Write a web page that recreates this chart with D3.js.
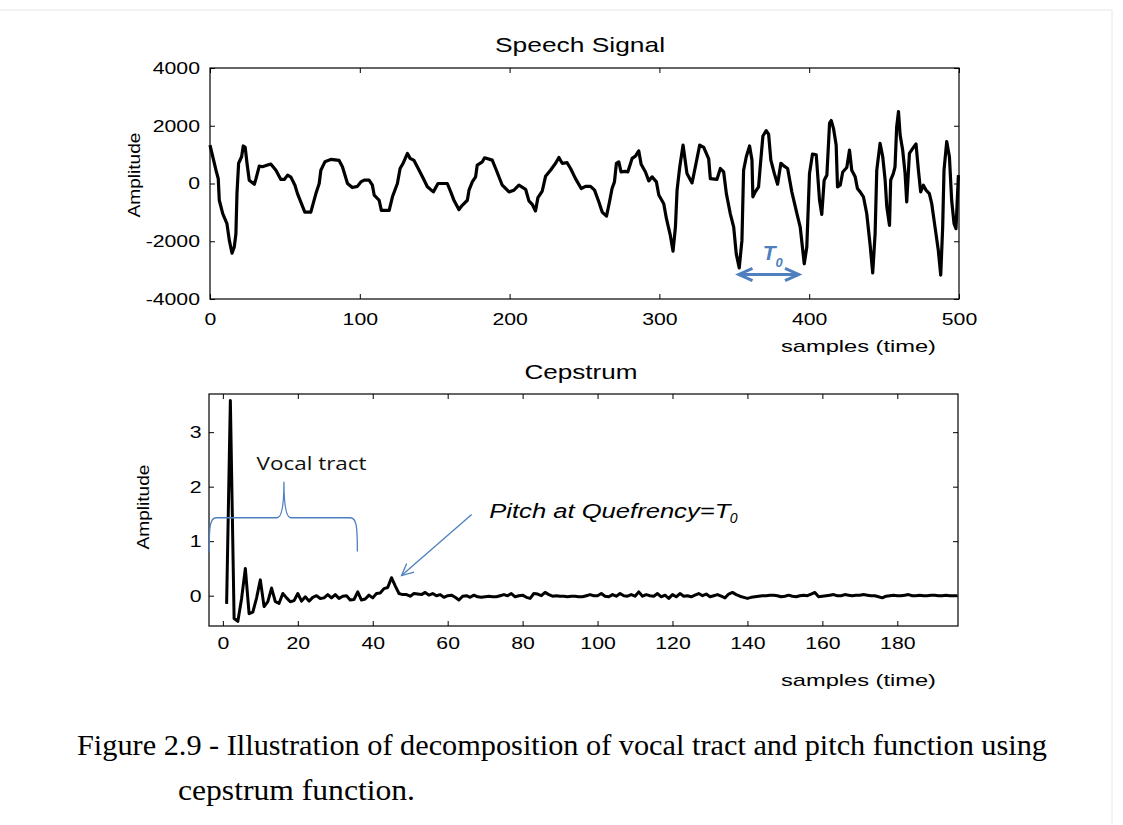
<!DOCTYPE html>
<html>
<head>
<meta charset="utf-8">
<script src="https://cdn.jsdelivr.net/npm/d3@7"></script>
<style>
  body { margin: 0; background: #fff; }
  svg { display: block; }
</style>
</head>
<body>
<svg id="cep"></svg>
<script>
// speech signal (sample index, amplitude)
const speechSample = [0, 4, 5.5, 6.2, 8.5, 11.3, 12.9, 14.7, 16.2, 17.3, 18, 19.1, 21.1, 22.2, 23.5, 24.7, 26.2, 29.6, 30.7, 32.9,
  35, 38.4, 40.7, 44, 47.3, 49.6, 51.8, 54, 56.7, 58.4, 63.3, 67.3, 70.7, 72.9, 74, 76.7, 80.7, 86.2, 88.4, 91.8,
  95, 98.4, 100.7, 102.9, 106.2, 108.4, 109.6, 112.9, 114.4, 117.3, 119.6, 121.8, 125.1, 126.9, 129.1, 131.8, 133.6, 136.2, 139.6, 142.4,
  145.1, 149.1, 152.2, 158.4, 160.7, 163, 166.2, 168.4, 171.8, 172.9, 175.1, 177.3, 178.4, 181.8, 183.3, 188.4, 190.7, 195.1, 199.6, 202.9,
  206.2, 210.7, 212.9, 215.1, 217.3, 218.9, 221.8, 224, 227.3, 230.7, 232.9, 235.1, 238.4, 240.7, 244, 247.8, 250.7, 254, 256.7, 259.6,
  261.8, 264.7, 266.9, 268.4, 270, 271.3, 272.9, 274.4, 277.3, 278.9, 281.8, 284, 286.2, 287.8, 290.7, 292.9, 295.1, 298, 299.6, 302.9,
  304.7, 307.3, 309.1, 310.7, 311.8, 313.6, 315.8, 318.4, 321.8, 324, 326.9, 329.6, 332.9, 334, 338.4, 340.7, 342.9, 344.7, 347.3, 349.6,
  351.3, 353.3, 355.1, 356.2, 358, 360.2, 361.8, 362.4, 364, 366.2, 367.3, 369.1, 371.3, 372.9, 374.4, 376.7, 378.9, 381.1, 383.3, 385.6,
  388.4, 391.8, 394, 396.7, 398.4, 400.2, 402.2, 404.7, 406.9, 408.4, 410, 411.8, 413.6, 414.7, 416.2, 418, 418.9, 420.7, 422.4, 425.1,
  426.9, 428.4, 430.7, 432.2, 434, 436.2, 438.4, 440.7, 442.4, 444, 445.1, 447.3, 449.1, 450.7, 451.8, 453.6, 454.4, 456.2, 457.3, 458.4,
  459.6, 460.7, 462.4, 464, 465.1, 466.9, 469.6, 471.3, 472.9, 474.4, 476.2, 478, 480.2, 481.8, 484, 486.2, 487.8, 489.1, 490, 491.8,
  493.6, 495.1, 496.7, 498, 499.6];
const speechAmp = [1330, 460, 170, -580, -1040, -1390, -1970, -2410, -2200, -1740, -350, 700, 925, 1300, 1250, 700, 115, -25, 170, 600,
  580, 640, 670, 460, 140, 140, 290, 220, -60, -350, -990, -990, -350, 0, 460, 750, 835, 800, 580, 0,
  -140, -100, 55, 115, 115, -60, -400, -580, -930, -930, -930, -460, 0, 520, 720, 1040, 870, 800, 460, 170,
  -115, -290, 0, 0, -290, -600, -905, -755, -580, -230, 55, 230, 640, 750, 890, 810, 520, -60, -290, -230,
  -60, -200, -600, -720, -950, -490, -260, 250, 460, 700, 900, 700, 720, 520, 170, -175, -100, -100, -230, -640,
  -990, -1130, -580, -175, 55, 700, 750, 400, 420, 400, 870, 950, 1130, 670, 400, 90, 230, 55, -400, -700,
  -1220, -1800, -2345, -1510, -230, 580, 1330, 350, 20, 580, 1330, 1250, 850, 170, 140, 520, 400, -350, -1040, -1510,
  -2435, -2920, -1970, 460, 925, 1300, 810, -460, -290, -115, 580, 1645, 1830, 1710, 810, 350, -25, 700, 600, 520,
  -290, -1040, -1510, -2780, -2200, 350, 1020, 990, -580, -1070, 115, 290, 2090, 2180, 1910, 1330, -115, -60, 400, 555,
  1160, 460, 230, -175, -290, -460, -1040, -2145, -3100, -1740, 460, 1390, 925, 115, -810, -1450, 115, 350, 580, 1970,
  2490, 1680, 1160, 350, -640, 1040, 1250, 1370, 460, -290, -60, -230, -350, -700, -1510, -2320, -3170, -1510, 460, 1450,
  925, -580, -1390, -1565, 290];

// cepstrum, one value per quefrency starting at cepFirst
const cepFirst = 1;
const cepAmp = [-0.15, 3.58, -0.42, -0.47, -0.05, 0.50, -0.33, -0.30, -0.04, 0.29,
  -0.20, -0.11, 0.14, -0.11, -0.14, 0.04, -0.04, -0.11, -0.09, 0.04,
  -0.10, -0.02, -0.10, -0.03, 0.00, -0.05, -0.04, 0.02, -0.04, 0.02,
  -0.05, -0.01, 0.00, -0.08, -0.07, 0.07, -0.08, -0.06, 0.01, -0.04,
  0.04, 0.05, 0.13, 0.15, 0.33, 0.18, 0.04, 0.02, 0.02, -0.01,
  0.04, 0.03, 0.02, 0.06, 0.01, 0.04, 0.00, 0.02, -0.03, 0.00,
  0.01, -0.03, -0.08, -0.01, 0.00, -0.03, 0.01, -0.02, -0.03, -0.02,
  -0.01, -0.02, -0.02, 0.00, 0.02, 0.00, 0.04, -0.02, 0.00, 0.01,
  -0.03, -0.05, 0.04, 0.03, 0.00, 0.06, 0.02, -0.01, 0.00, -0.01,
  -0.01, -0.02, -0.01, -0.01, -0.02, -0.02, 0.00, 0.02, 0.00, 0.00,
  0.04, -0.01, -0.02, 0.02, -0.01, 0.04, 0.00, -0.01, 0.02, -0.01,
  0.07, -0.01, 0.02, 0.00, -0.01, 0.04, -0.02, 0.01, -0.05, 0.02,
  -0.02, 0.04, -0.01, 0.00, -0.02, 0.01, 0.04, 0.00, 0.03, -0.02,
  0.00, 0.02, -0.01, -0.04, 0.03, 0.06, 0.02, -0.01, -0.03, -0.05,
  -0.03, -0.02, -0.01, 0.00, 0.00, 0.01, 0.01, 0.00, -0.02, -0.01,
  0.01, -0.01, -0.02, 0.00, 0.01, 0.00, 0.03, 0.06, -0.02, -0.01,
  0.00, 0.01, 0.02, 0.00, 0.00, 0.02, 0.01, 0.00, 0.01, 0.01,
  0.02, 0.01, 0.00, 0.00, -0.02, -0.04, -0.01, 0.00, 0.01, 0.00,
  0.00, 0.01, 0.02, 0.00, 0.00, 0.01, 0.00, 0.00, 0.01, 0.01,
  0.00, 0.00, 0.01, 0.00, 0.00, 0.00];

// tick labels
const speechXTicks = [0, 100, 200, 300, 400, 500];
const speechYTicks = [-4000, -2000, 0, 2000, 4000];
const cepXTicks = [0, 20, 40, 60, 80, 100, 120, 140, 160, 180];
const cepYTicks = [0, 1, 2, 3];

const width = 1123, height = 825;
const blue = "#4f7fbf";
const sans = "'Liberation Sans', Arial, sans-serif";

var svg = d3.select("#cep").attr("width", width).attr("height", height);

// faint page frame
svg.append("rect").attr("x", -1).attr("y", 10).attr("width", 1113).attr("height", 830)
  .attr("fill", "none").attr("stroke", "#e8e8e8");

// scales
var x1 = d3.scaleLinear().domain([0, 500]).range([210, 959]);
var y1 = d3.scaleLinear().domain([-4000, 4000]).range([299, 68]);
var x2 = d3.scaleLinear().domain([-3.7, 196.2]).range([209, 958]);
var y2 = d3.scaleLinear().domain([-0.556, 3.70]).range([626, 394]);

function frame(x, y, xt, yt, lblX, padB) {
  var g = svg.append("g");
  var fmt = function(d) { return String(d); };
  var xr = x.range(), yr = y.range();

  g.append("g").attr("transform", "translate(0," + yr[0] + ")")
    .call(d3.axisBottom(x).tickValues(xt).tickSize(-5).tickPadding(padB).tickFormat(fmt));
  g.append("g").attr("transform", "translate(0," + yr[1] + ")")
    .call(d3.axisTop(x).tickValues(xt).tickSize(-5).tickFormat(""));
  g.append("g").attr("transform", "translate(" + xr[0] + ",0)")
    .call(d3.axisLeft(y).tickValues(yt).tickSize(-5).tickFormat(fmt));
  g.append("g").attr("transform", "translate(" + xr[1] + ",0)")
    .call(d3.axisRight(y).tickValues(yt).tickSize(-5).tickFormat(""));

  g.selectAll(".domain").remove();
  g.selectAll(".tick line").attr("stroke", "#000");
  g.selectAll(".tick text")
    .attr("fill", "#000")
    .style("font-family", sans)
    .style("font-size", "17px")
    .attr("transform", "scale(1.25,1)");
  // left labels: keep the right edge near the axis after the stretch
  g.selectAll("g:nth-child(3) .tick text").attr("x", lblX / 1.25);
  g.selectAll("g:nth-child(1) .tick text").attr("x", 0);

  g.append("rect")
    .attr("x", xr[0]).attr("y", yr[1])
    .attr("width", xr[1] - xr[0]).attr("height", yr[0] - yr[1])
    .attr("fill", "none").attr("stroke", "#000").attr("stroke-width", 1.2);
  return g;
}

// Speech Signal panel
frame(x1, y1, speechXTicks, speechYTicks, -10, 14);

var speechLine = d3.line()
  .x(function(d, i) { return x1(speechSample[i]); })
  .y(function(d) { return y1(d); });

svg.append("path")
  .datum(speechAmp)
  .attr("d", speechLine)
  .attr("fill", "none").attr("stroke", "#000")
  .attr("stroke-width", 3.2).attr("stroke-linejoin", "round");

// Cepstrum panel
frame(x2, y2, cepXTicks, cepYTicks, -7.5, 11);

var cepLine = d3.line()
  .x(function(d, i) { return x2(cepFirst + i); })
  .y(function(d) { return y2(d); });

svg.append("path")
  .datum(cepAmp)
  .attr("d", cepLine)
  .attr("fill", "none").attr("stroke", "#000")
  .attr("stroke-width", 3).attr("stroke-linejoin", "round");

// titles and axis labels
function label(txt, x, y, size, len, anchor) {
  return svg.append("text")
    .attr("x", x).attr("y", y)
    .attr("text-anchor", anchor || "start")
    .attr("textLength", len).attr("lengthAdjust", "spacingAndGlyphs")
    .style("font-family", sans).style("font-size", size + "px")
    .text(txt);
}
label("Speech Signal", 580, 52, 21, 170, "middle");
label("Cepstrum", 581, 379, 21, 113, "middle");
label("samples (time)", 781, 352, 17, 155);
label("samples (time)", 781, 686, 17, 155);
label("Amplitude", 0, 0, 17, 85, "middle").attr("transform", "translate(140,175) rotate(-90)");
label("Amplitude", 0, 0, 17, 85, "middle").attr("transform", "translate(148.5,507) rotate(-90)");

// open arrow head helper
function chevron(tx, ty, ang, len, spread) {
  var a1 = ang + Math.PI - spread, a2 = ang + Math.PI + spread;
  return "M" + (tx + len * Math.cos(a1)) + "," + (ty + len * Math.sin(a1)) +
    "L" + tx + "," + ty +
    "L" + (tx + len * Math.cos(a2)) + "," + (ty + len * Math.sin(a2));
}

// T0 period marker between the two troughs
var t0a = x1(353), t0b = x1(393), t0y = y1(-3150);
svg.append("line").attr("x1", t0a + 2).attr("x2", t0b - 2).attr("y1", t0y).attr("y2", t0y)
  .attr("stroke", blue).attr("stroke-width", 3);
svg.append("path").attr("d", chevron(t0a, t0y, Math.PI, 15, 0.42))
  .attr("fill", "none").attr("stroke", blue).attr("stroke-width", 3).attr("stroke-linejoin", "miter");
svg.append("path").attr("d", chevron(t0b, t0y, 0, 15, 0.42))
  .attr("fill", "none").attr("stroke", blue).attr("stroke-width", 3).attr("stroke-linejoin", "miter");
svg.append("text").attr("x", x1(369)).attr("y", y1(-2650))
  .style("font-family", sans).style("font-size", "21px")
  .style("font-weight", "bold").style("font-style", "italic")
  .attr("fill", blue).text("T");
svg.append("text").attr("x", x1(377.5)).attr("y", y1(-2880))
  .style("font-family", sans).style("font-size", "13px")
  .style("font-weight", "bold").style("font-style", "italic")
  .attr("fill", blue).text("0");

// vocal tract brace
var bx0 = x2(-3.66), bx1 = x2(35.9), bxm = x2(16.3);
var by0 = y2(0.81), byh = y2(1.43), byp = y2(2.09);
var brace = "M" + bx0 + "," + by0 +
  "C" + bx0 + "," + (byh + 8) + " " + (bx0 + 1) + "," + byh + " " + (bx0 + 7) + "," + byh +
  "L" + (bxm - 7) + "," + byh +
  "C" + (bxm - 2) + "," + byh + " " + bxm + "," + (byh - 12) + " " + bxm + "," + byp +
  "C" + bxm + "," + (byh - 12) + " " + (bxm + 2) + "," + byh + " " + (bxm + 7) + "," + byh +
  "L" + (bx1 - 7) + "," + byh +
  "C" + (bx1 - 1) + "," + byh + " " + bx1 + "," + (byh + 8) + " " + bx1 + "," + by0;
svg.append("path").attr("d", brace)
  .attr("fill", "none").attr("stroke", blue).attr("stroke-width", 1.3);

svg.append("text").attr("x", x2(9)).attr("y", y2(2.31))
  .attr("textLength", 110).attr("lengthAdjust", "spacingAndGlyphs")
  .style("font-family", "'Open Sans', 'Noto Sans', sans-serif").style("font-size", "19px")
  .attr("fill", "#111").text("Vocal tract");

// pitch arrow
var px0 = x2(66.4), py0 = y2(1.49), pxt = x2(47.7), pyt = y2(0.37);
var pang = Math.atan2(pyt - py0, pxt - px0);
svg.append("line").attr("x1", px0).attr("y1", py0).attr("x2", pxt).attr("y2", pyt)
  .attr("stroke", blue).attr("stroke-width", 1.3);
svg.append("path").attr("d", chevron(pxt, pyt, pang, 13, 0.45))
  .attr("fill", "none").attr("stroke", blue).attr("stroke-width", 1.3);

svg.append("text").attr("x", x2(71.1)).attr("y", y2(1.43))
  .attr("textLength", 241).attr("lengthAdjust", "spacingAndGlyphs")
  .style("font-family", sans).style("font-size", "20px").style("font-style", "italic")
  .text("Pitch at Quefrency=T");
svg.append("text").attr("x", x2(135.3)).attr("y", y2(1.34))
  .style("font-family", sans).style("font-size", "14px").style("font-style", "italic")
  .text("0");

// caption
var serif = "'Liberation Serif', 'Times New Roman', serif";
svg.append("text").attr("x", 77).attr("y", 755)
  .attr("textLength", 970).attr("lengthAdjust", "spacingAndGlyphs")
  .style("font-family", serif).style("font-size", "29px")
  .text("Figure 2.9 - Illustration of decomposition of vocal tract and pitch function using");
svg.append("text").attr("x", 178).attr("y", 800)
  .attr("textLength", 237).attr("lengthAdjust", "spacingAndGlyphs")
  .style("font-family", serif).style("font-size", "29px")
  .text("cepstrum function.");
</script>
</body>
</html>
